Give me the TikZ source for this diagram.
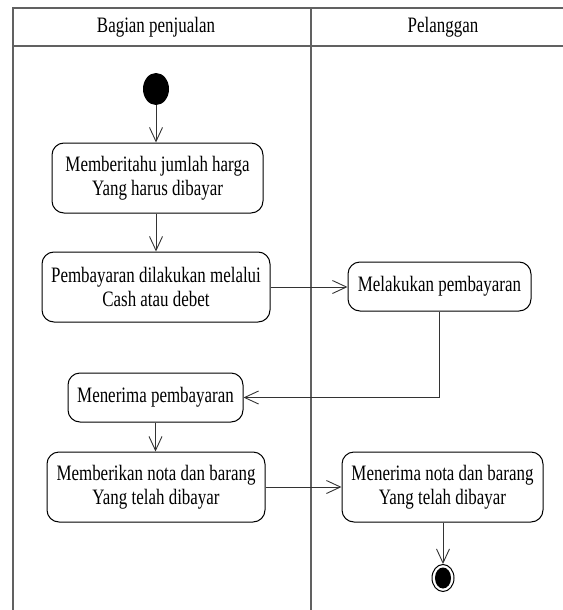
\documentclass[tikz,border=0pt]{standalone}
\usepackage{fontspec}
\setmainfont[FakeStretch=0.77]{Liberation Serif}
\usetikzlibrary{arrows.meta,shapes.geometric}

\begin{document}
\begin{tikzpicture}[x=1pt,y=-1pt,
  lane/.style={line width=1.6pt, draw=black!62},
  act/.style={draw, rounded corners=12pt, line width=1pt, align=center,
    font=\fontsize{22}{24}\selectfont, inner sep=0pt},
  flow/.style={draw=black!80, line width=0.9pt,
    -{Straight Barb[length=14pt,width=13pt]}},
  lbl/.style={font=\fontsize{22}{24}\selectfont}]

\useasboundingbox (0,0) rectangle (562,610);

% swimlane frame
\draw[lane] (13,612) -- (13,8) -- (575,8);
\draw[lane] (13,46) -- (575,46);
\draw[lane] (311,8) -- (311,612);
\node[lbl] (laneA) at (156,27) {Bagian penjualan};
\node[lbl] (laneB) at (443,27) {Pelanggan};

% initial and final states
\node[ellipse, fill=black, minimum width=26pt, minimum height=32pt, inner sep=0pt] (start) at (156,89) {};
\node[ellipse, draw, line width=1pt, fill=white, minimum width=22pt, minimum height=27pt, inner sep=0pt] (end) at (443,578) {};
\node[ellipse, fill=black, minimum width=16pt, minimum height=21pt, inner sep=0pt] (endcore) at (end.center) {};

% activities
\node[act, minimum width=211pt, minimum height=70pt] (n1) at (157.5,178)
  {Memberitahu jumlah harga\\Yang harus dibayar};
\node[act, minimum width=228pt, minimum height=70pt] (n2) at (156,287)
  {Pembayaran dilakukan melalui\\Cash atau debet};
\node[act, minimum width=183pt, minimum height=49pt] (n3) at (439.5,286.5)
  {Melakukan pembayaran};
\node[act, minimum width=175pt, minimum height=49pt] (n4) at (155.5,397.5)
  {Menerima pembayaran};
\node[act, minimum width=218pt, minimum height=70pt] (n5) at (156,487)
  {Memberikan nota dan barang\\Yang telah dibayar};
\node[act, minimum width=201pt, minimum height=70pt] (n6) at (442.5,487)
  {Menerima nota dan barang\\Yang telah dibayar};

% transitions
\draw[flow] (start) -- (start |- n1.north);
\draw[flow] (n1.south -| start) -- (start |- n2.north);
\draw[flow] (n2.east) -- (n3.west |- n2.east);
\draw[flow] (n3.south) |- (n4.east);
\draw[flow] (n4.south) -- (n4.south |- n5.north);
\draw[flow] (n5.east) -- (n6.west);
\draw[flow] (n6.south -| end) -- (end.north);
\end{tikzpicture}
\end{document}
